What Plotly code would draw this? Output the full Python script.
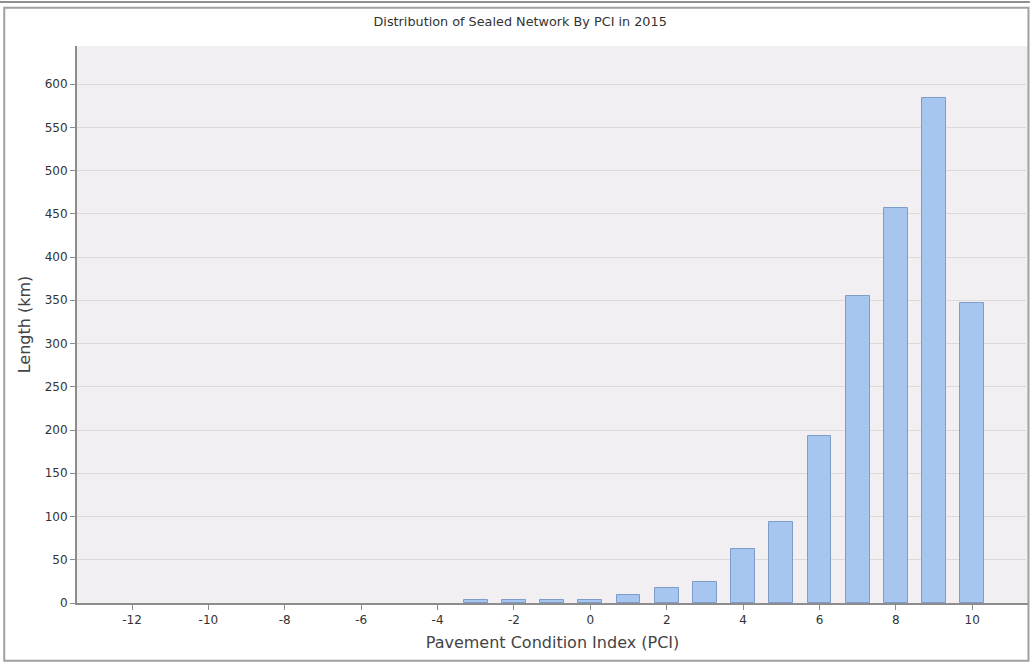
import plotly.graph_objects as go

pci = [-3, -2, -1, 0, 1, 2, 3, 4, 5, 6, 7, 8, 9, 10]
length_km = [3, 3, 4, 4, 9, 17, 24, 62, 94, 193, 355, 457, 584, 347]
x_ticks = [-12, -10, -8, -6, -4, -2, 0, 2, 4, 6, 8, 10]
x_tick_labels = ["-12", "-10", "-8", "-6", "-4", "-2", "0", "2", "4", "6", "8", "10"]
y_ticks = list(range(0, 650, 50))

FONT = "DejaVu Sans"

fig = go.Figure()
fig.add_trace(go.Bar(
    x=pci, y=length_km, width=0.62,
    marker=dict(color="#a6c6f0", line=dict(color="#7d9ccc", width=1)),
    showlegend=False,
))

fig.update_layout(
    width=1030, height=664,
    margin=dict(l=77, r=2, t=46, b=61, autoexpand=False),
    paper_bgcolor="white",
    plot_bgcolor="#f1eff1",
    title=dict(text="Distribution of Sealed Network By PCI in 2015",
               x=0.505, xanchor="center", y=0.968, yanchor="middle",
               font=dict(family=FONT, size=12.8, color="#333333")),
    font=dict(family=FONT, color="#333333"),
    bargap=0,
)

fig.update_xaxes(
    range=[-13.44, 11.46], tickvals=x_ticks, ticktext=x_tick_labels,
    showgrid=False, zeroline=False, automargin=False,
    showline=True, linecolor="#8c8c8c", linewidth=2,
    ticks="outside", ticklen=5, tickcolor="#8c8c8c",
    tickfont=dict(family=FONT, size=12, color="#333333"),
    title=dict(text="Pavement Condition Index (PCI)",
               font=dict(family=FONT, size=16, color="#444444"), standoff=10),
)
fig.update_yaxes(
    range=[0, 644], tickvals=y_ticks,
    showgrid=True, gridcolor="#dadada", gridwidth=1, zeroline=False, automargin=False,
    showline=True, linecolor="#8c8c8c", linewidth=2,
    ticks="outside", ticklen=5, tickcolor="#8c8c8c",
    tickfont=dict(family=FONT, size=12, color="#333333"),
    title=dict(text="Length (km)",
               font=dict(family=FONT, size=16, color="#444444"), standoff=10),
)

# outer frame
fig.add_shape(type="rect", xref="paper", yref="paper",
              x0=-0.0765, x1=1.0005, y0=-0.1035, y1=1.0685,
              line=dict(color="#a0a0a0", width=2), layer="below")
fig.add_shape(type="line", xref="paper", yref="paper",
              x0=-0.081, x1=1.002, y0=1.079, y1=1.079,
              line=dict(color="#909090", width=2))

fig.write_html("out.html",
               config={"displayModeBar": False},
               post_script="document.body.style.margin='0';document.body.style.overflow='hidden';")
